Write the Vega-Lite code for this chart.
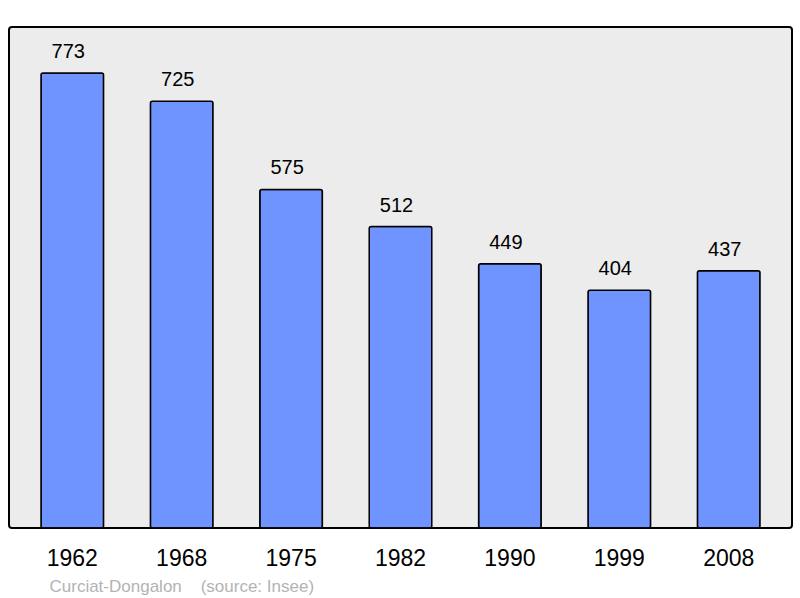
{
  "$schema": "https://vega.github.io/schema/vega-lite/v6.json",
  "width": 783,
  "height": 501,
  "autosize": {"type": "none"},
  "padding": {"left": 9, "top": 27, "right": 8, "bottom": 70},
  "background": "white",
  "config": {
    "view": {"fill": "#ececec", "stroke": "#000000", "strokeWidth": 2, "cornerRadius": 3},
    "font": "Liberation Sans"
  },
  "data": {
    "values": [
      {"year": "1962", "population": 773},
      {"year": "1968", "population": 725},
      {"year": "1975", "population": 575},
      {"year": "1982", "population": 512},
      {"year": "1990", "population": 449},
      {"year": "1999", "population": 404},
      {"year": "2008", "population": 437}
    ]
  },
  "encoding": {
    "x": {
      "field": "year",
      "type": "ordinal",
      "scale": {"paddingInner": 0.428, "paddingOuter": 0.2925},
      "axis": {
        "domain": false,
        "ticks": false,
        "tickSize": 0,
        "labelAngle": 0,
        "labelFontSize": 23,
        "labelColor": "#000000",
        "labelBaseline": "alphabetic",
        "labelPadding": 37,
        "title": "Curciat-Dongalon\u00a0\u00a0\u00a0\u00a0(source: Insee)",
        "titleAnchor": "start",
        "titleAlign": "left",
        "titleBaseline": "alphabetic",
        "titleX": 40,
        "titleY": 63,
        "titleFontSize": 17,
        "titleFontWeight": "normal",
        "titleColor": "#b3b3b3"
      }
    },
    "y": {
      "field": "population",
      "type": "quantitative",
      "scale": {"domain": [0, 851], "nice": false},
      "axis": null
    }
  },
  "layer": [
    {
      "mark": {"type": "bar", "fill": "#7094ff", "stroke": "#000000", "strokeWidth": 1.5, "cornerRadius": 2}
    },
    {
      "mark": {"type": "text", "fontSize": 20, "baseline": "alphabetic", "dy": -15, "dx": -4, "color": "#000000"},
      "encoding": {"text": {"field": "population", "type": "quantitative"}}
    }
  ]
}
